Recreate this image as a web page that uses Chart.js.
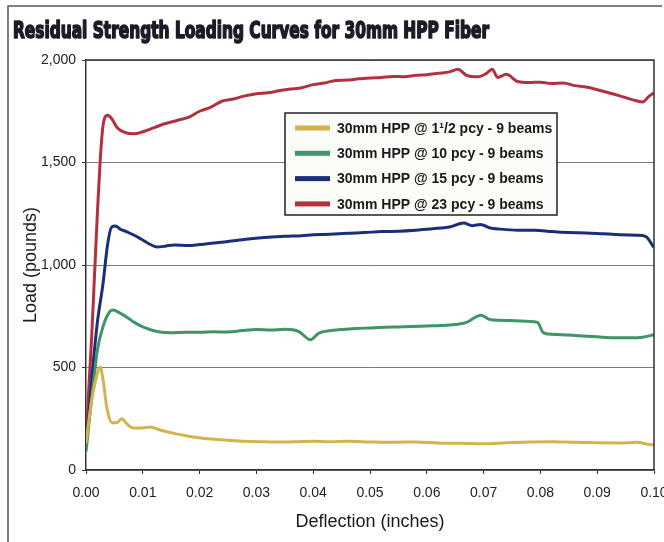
<!DOCTYPE html>
<html>
<head>
<meta charset="utf-8">
<script src="https://cdn.jsdelivr.net/npm/chart.js@4"></script>
<style>
  html, body { margin: 0; padding: 0; background: #fff; }
</style>
</head>
<body>
<canvas id="myChart" width="664" height="542"></canvas>
<script>
// deflection (inches) / load (pounds)
const deflA = [0, 0.001, 0.0018, 0.0025, 0.003, 0.0037, 0.0046, 0.0055, 0.0063, 0.0072, 0.0083, 0.0098, 0.0113, 0.013, 0.0153, 0.018, 0.0205, 0.0225, 0.025, 0.028, 0.031, 0.034, 0.037, 0.04, 0.043, 0.046, 0.05, 0.054, 0.058, 0.062, 0.066, 0.07, 0.074, 0.078, 0.082, 0.086, 0.09, 0.094, 0.097, 0.099, 0.1];
const loadA = [130, 340, 450, 502, 440, 300, 230, 232, 250, 225, 205, 205, 210, 195, 180, 165, 155, 150, 145, 140, 138, 137, 138, 140, 138, 140, 137, 135, 137, 132, 130, 128, 133, 137, 138, 135, 133, 132, 135, 125, 122];

const deflB = [0, 0.0008, 0.0015, 0.002, 0.003, 0.004, 0.0048, 0.006, 0.0072, 0.0085, 0.01, 0.0115, 0.013, 0.015, 0.0175, 0.02, 0.0225, 0.025, 0.0275, 0.03, 0.0325, 0.035, 0.0375, 0.0395, 0.041, 0.043, 0.045, 0.0475, 0.05, 0.0525, 0.055, 0.0575, 0.06, 0.0625, 0.065, 0.067, 0.0685, 0.0695, 0.071, 0.073, 0.0755, 0.078, 0.0795, 0.0805, 0.082, 0.085, 0.0875, 0.09, 0.093, 0.096, 0.098, 0.1];
const loadB = [90, 300, 470, 585, 700, 765, 780, 765, 745, 720, 698, 683, 673, 670, 672, 672, 674, 673, 680, 685, 683, 686, 675, 635, 668, 680, 685, 690, 693, 696, 698, 700, 703, 705, 710, 720, 745, 755, 735, 730, 728, 725, 720, 670, 662, 658, 654, 650, 645, 645, 648, 660];

const deflC = [0, 0.0006, 0.0012, 0.002, 0.003, 0.0038, 0.0045, 0.0052, 0.006, 0.0072, 0.0085, 0.0095, 0.011, 0.0125, 0.014, 0.0155, 0.018, 0.02, 0.023, 0.026, 0.029, 0.032, 0.035, 0.038, 0.04, 0.043, 0.046, 0.049, 0.052, 0.055, 0.058, 0.061, 0.064, 0.0665, 0.068, 0.0695, 0.071, 0.073, 0.076, 0.079, 0.082, 0.085, 0.088, 0.091, 0.094, 0.097, 0.0985, 0.1];
const loadC = [110, 300, 500, 720, 910, 1100, 1185, 1190, 1175, 1162, 1145, 1130, 1105, 1088, 1092, 1098, 1095, 1100, 1108, 1118, 1128, 1135, 1140, 1143, 1148, 1150, 1155, 1158, 1163, 1165, 1170, 1177, 1185, 1205, 1192, 1198, 1182, 1175, 1170, 1170, 1163, 1158, 1156, 1152, 1148, 1145, 1140, 1085];

const deflD = [0, 0.0005, 0.001, 0.0015, 0.002, 0.0025, 0.003, 0.0038, 0.0045, 0.0055, 0.007, 0.0085, 0.01, 0.012, 0.014, 0.016, 0.018, 0.02, 0.022, 0.024, 0.026, 0.028, 0.03, 0.032, 0.034, 0.036, 0.038, 0.04, 0.042, 0.044, 0.046, 0.048, 0.05, 0.052, 0.054, 0.056, 0.058, 0.06, 0.062, 0.064, 0.0655, 0.067, 0.069, 0.0705, 0.0715, 0.0725, 0.074, 0.076, 0.078, 0.08, 0.082, 0.084, 0.086, 0.088, 0.09, 0.092, 0.094, 0.096, 0.098, 0.099, 0.1];
const loadD = [120, 400, 650, 950, 1250, 1510, 1680, 1730, 1715, 1670, 1645, 1640, 1650, 1670, 1690, 1705, 1720, 1750, 1770, 1800, 1810, 1825, 1835, 1840, 1850, 1858, 1865, 1880, 1888, 1900, 1902, 1908, 1912, 1915, 1920, 1918, 1925, 1928, 1935, 1942, 1955, 1925, 1918, 1935, 1955, 1915, 1930, 1895, 1890, 1892, 1885, 1888, 1875, 1868, 1855, 1840, 1825, 1808, 1795, 1820, 1840];

const seriesNames = [
  '30mm HPP @ 1\u00B9/2 pcy - 9 beams',
  '30mm HPP @ 10 pcy - 9 beams',
  '30mm HPP @ 15 pcy - 9 beams',
  '30mm HPP @ 23 pcy - 9 beams'
];
const seriesColors = ['#d2b44c', '#3f9468', '#1b2e78', '#b3303f'];
const xTicks = [0, 0.01, 0.02, 0.03, 0.04, 0.05, 0.06, 0.07, 0.08, 0.09, 0.1];

function pts(xs, ys) {
  return xs.map(function (x, i) { return {x: x, y: ys[i]}; });
}

const allDefl = [deflA, deflB, deflC, deflD];
const allLoad = [loadA, loadB, loadC, loadD];

const datasets = seriesNames.map(function (name, i) {
  return {
    label: name,
    data: pts(allDefl[i], allLoad[i]),
    borderColor: seriesColors[i],
    backgroundColor: seriesColors[i],
    borderWidth: 3,
    pointRadius: 0,
    cubicInterpolationMode: 'monotone',
    fill: false
  };
});

// title, frame, legend box
const decor = {
  id: 'decor',
  beforeDraw(chart) {
    const c = chart.ctx;
    c.save();
    c.strokeStyle = '#555';
    c.lineWidth = 1.5;
    c.beginPath();
    c.moveTo(8, 542);
    c.lineTo(8, 6);
    c.lineTo(662, 6);
    c.stroke();
    // title, squeezed to width and thickened
    c.fillStyle = '#1c1c28';
    c.strokeStyle = '#1c1c28';
    c.lineWidth = 1.6;
    c.lineJoin = 'round';
    c.font = 'bold 23px "Liberation Sans Narrow", "DejaVu Sans Condensed", "Liberation Sans", sans-serif';
    c.textBaseline = 'alphabetic';
    const t = 'Residual Strength Loading Curves for 30mm HPP Fiber';
    const w = c.measureText(t).width;
    c.translate(13, 38);
    c.scale(476 / w, 1);
    c.fillText(t, 0, 0);
    c.strokeText(t, 0, 0);
    c.restore();
  },
  afterDraw(chart) {
    const c = chart.ctx;
    const a = chart.chartArea;
    c.save();
    c.strokeStyle = '#333';
    c.lineWidth = 1.5;
    c.beginPath();
    c.moveTo(a.left, a.top);
    c.lineTo(a.right, a.top);
    c.lineTo(a.right, a.bottom);
    c.stroke();

    const bx = a.left + 199, by = a.top + 53, bw = 272, bh = 102;
    c.fillStyle = '#fbfbf7';
    c.fillRect(bx, by, bw, bh);
    c.strokeStyle = '#222';
    c.lineWidth = 1.5;
    c.strokeRect(bx, by, bw, bh);
    c.font = 'bold 14px "Liberation Sans", Arial, sans-serif';
    c.textBaseline = 'middle';
    chart.data.datasets.forEach(function (ds, i) {
      const yy = by + 15 + i * 25.3;
      c.fillStyle = ds.borderColor;
      c.fillRect(bx + 10, yy - 2.5, 35, 5);
      c.fillStyle = '#1a1a1a';
      c.fillText(ds.label, bx + 52, yy + 1);
    });
    c.restore();
  }
};

const ctx = document.getElementById('myChart').getContext('2d');
const myChart = new Chart(ctx, {
  type: 'line',
  data: {datasets: datasets},
  options: {
    responsive: false,
    devicePixelRatio: 1,
    animation: false,
    layout: {padding: {top: 60, right: 10, left: 0, bottom: 0}},
    plugins: {
      legend: {display: false},
      tooltip: {enabled: false}
    },
    scales: {
      x: {
        type: 'linear',
        min: 0,
        max: 0.1,
        afterBuildTicks(scale) {
          scale.ticks = xTicks.map(function (v) { return {value: v}; });
        },
        afterFit(scale) {
          scale.height = 72;
          scale.paddingRight = 0;
          scale.paddingLeft = 0;
        },
        ticks: {
          color: '#222',
          font: {family: '"Liberation Sans", Arial, sans-serif', size: 14},
          padding: 11,
          maxRotation: 0,
          autoSkip: false,
          callback: function (v) { return v.toFixed(2); }
        },
        grid: {drawOnChartArea: false, drawTicks: true, tickLength: 4, color: '#333'},
        border: {display: true, color: '#333', width: 1.5},
        title: {
          display: true,
          text: 'Deflection (inches)',
          color: '#1a1a1a',
          font: {family: '"Liberation Sans", Arial, sans-serif', size: 18},
          padding: {top: 4, bottom: 9}
        }
      },
      y: {
        min: 0,
        max: 2000,
        ticks: {
          stepSize: 500,
          color: '#222',
          font: {family: '"Liberation Sans", Arial, sans-serif', size: 14},
          padding: 6,
          callback: function (v) { return v.toLocaleString('en-US'); }
        },
        afterFit(scale) {
          scale.width = 86;
        },
        grid: {color: '#7a7a7a', lineWidth: 1, tickLength: 4, tickColor: '#333'},
        border: {display: true, color: '#333', width: 1.5},
        title: {
          display: true,
          text: 'Load (pounds)',
          color: '#1a1a1a',
          font: {family: '"Liberation Sans", Arial, sans-serif', size: 18},
          padding: {top: 20, bottom: 0}
        }
      }
    }
  },
  plugins: [decor]
});
</script>
</body>
</html>
